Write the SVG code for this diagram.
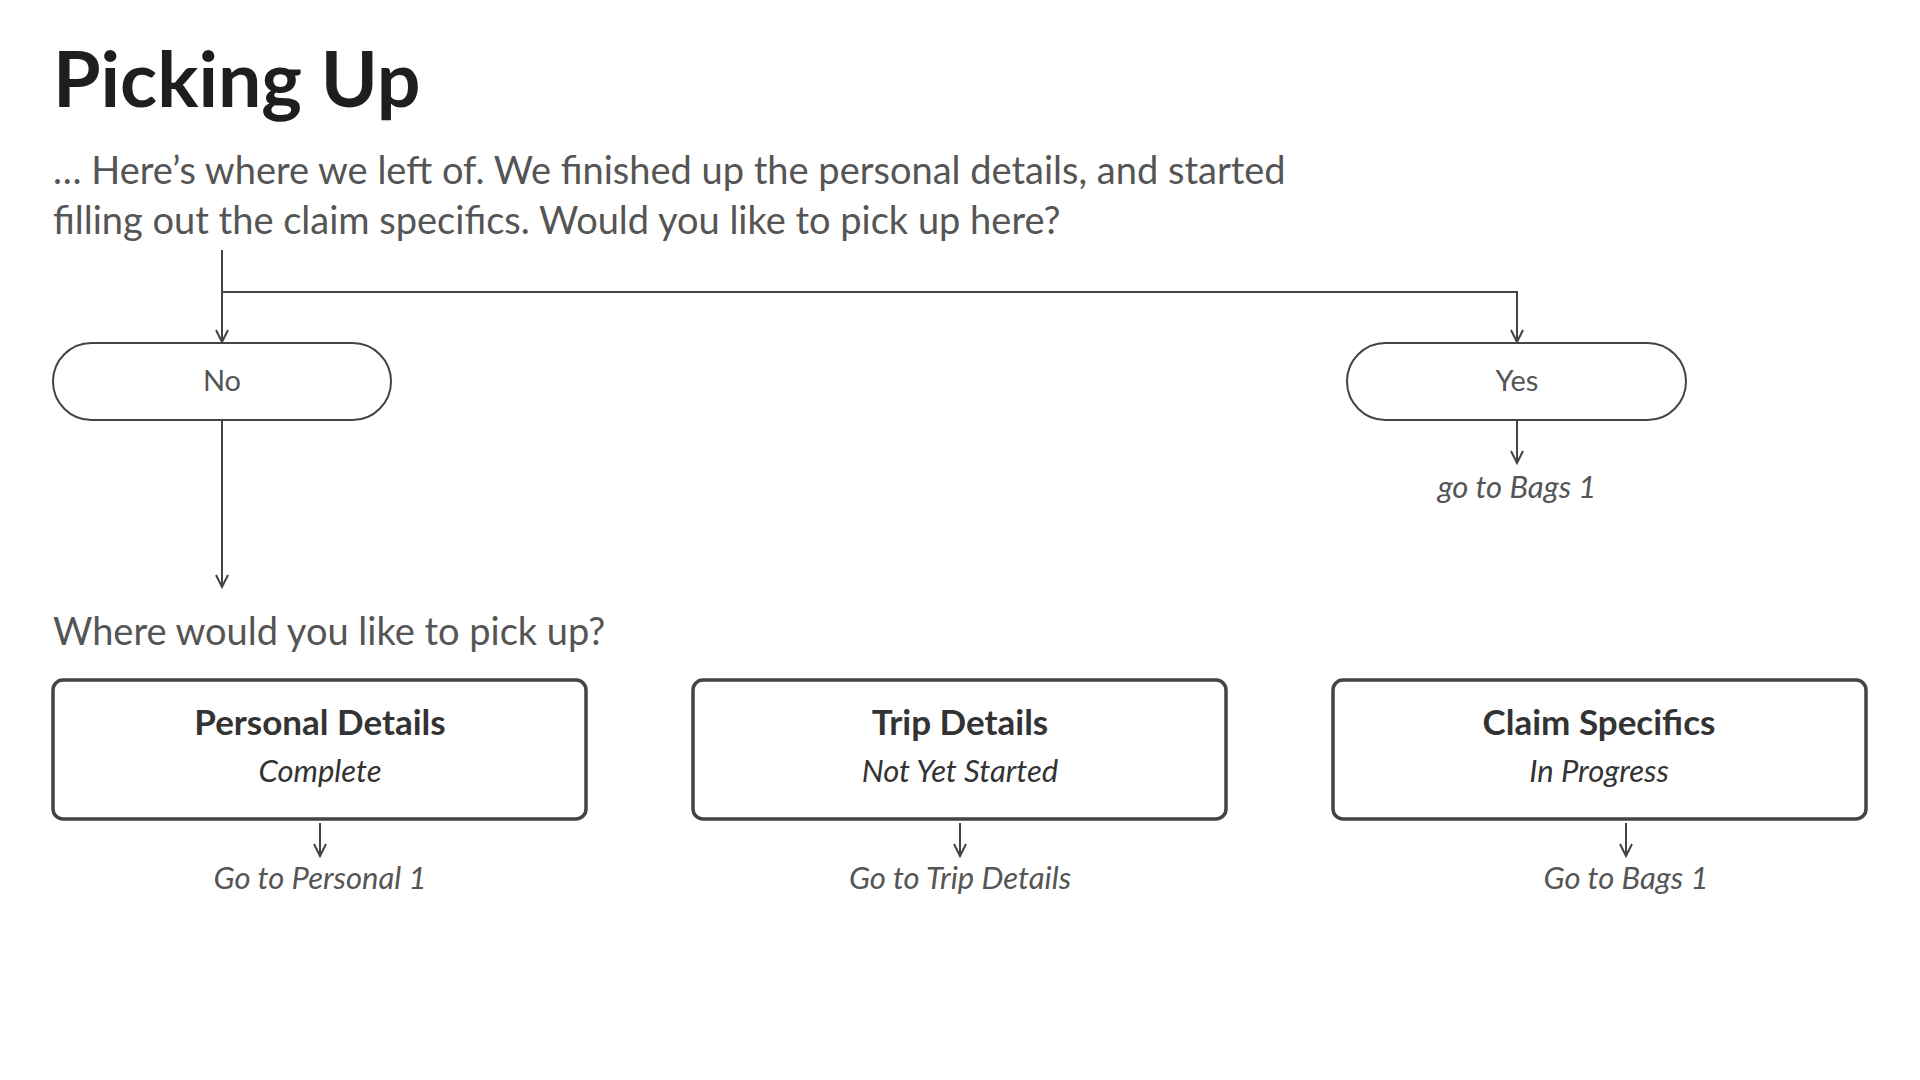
<svg xmlns="http://www.w3.org/2000/svg" width="1920" height="1080" viewBox="0 0 1920 1080">
  <style>
    .title { font-family: Lato, "Open Sans", sans-serif; font-weight: 700; font-size: 77px; fill: #1e1e1e; }
    .lead { font-family: Lato, "Open Sans", sans-serif; font-size: 38px; fill: #555555; }
    .pill { fill: #ffffff; stroke: #444444; stroke-width: 2; }
    .pilltext { font-family: Lato, "Open Sans", sans-serif; font-size: 29px; fill: #555555; text-anchor: middle; }
    .box { fill: #ffffff; stroke: #444444; stroke-width: 3.5; }
    .boxtitle { font-family: Lato, "Open Sans", sans-serif; font-weight: 700; font-size: 35px; fill: #333333; text-anchor: middle; }
    .boxsub { font-family: Lato, "Open Sans", sans-serif; font-style: italic; font-size: 31px; fill: #333333; text-anchor: middle; }
    .goto { font-family: Lato, "Open Sans", sans-serif; font-style: italic; font-size: 31px; fill: #555555; text-anchor: middle; }
    .conn { fill: none; stroke: #444444; stroke-width: 2; }
  </style>
  <defs>
    <marker id="arrow" markerUnits="userSpaceOnUse" markerWidth="30" markerHeight="30" viewBox="-15 -15 30 30" refX="0" refY="0" orient="auto-start-reverse">
      <path d="M-12,-6 L0,0 L-12,6" fill="none" stroke="#444444" stroke-width="2"/>
    </marker>
  </defs>
  <rect width="1920" height="1080" fill="#ffffff"/>

  <g id="header">
    <text class="title" x="53" y="107">Picking Up</text>
    <text class="lead" x="53" y="184">… Here’s where we left of. We finished up the personal details, and started</text>
    <text class="lead" x="53" y="234">filling out the claim specifics. Would you like to pick up here?</text>
  </g>

  <g id="connectors">
    <path class="conn" d="M222,250 V342" marker-end="url(#arrow)"/>
    <path class="conn" d="M222,292 H1517 V342" marker-end="url(#arrow)"/>
    <path class="conn" d="M222,420 V587" marker-end="url(#arrow)"/>
    <path class="conn" d="M1517,420 V463" marker-end="url(#arrow)"/>
    <path class="conn" d="M320,823 V856" marker-end="url(#arrow)"/>
    <path class="conn" d="M960,823 V856" marker-end="url(#arrow)"/>
    <path class="conn" d="M1626,823 V856" marker-end="url(#arrow)"/>
  </g>

  <g id="node-no">
    <rect class="pill" x="53" y="343" width="338" height="77" rx="38.5"/>
    <text class="pilltext" x="222" y="391">No</text>
  </g>

  <g id="node-yes">
    <rect class="pill" x="1347" y="343" width="339" height="77" rx="38.5"/>
    <text class="pilltext" x="1517" y="391">Yes</text>
  </g>

  <g id="label-yes-goto">
    <text class="goto" x="1517" y="498">go to Bags 1</text>
  </g>

  <g id="question">
    <text class="lead" x="53" y="645">Where would you like to pick up?</text>
  </g>

  <g id="node-personal">
    <rect class="box" x="53" y="680" width="533" height="139" rx="10"/>
    <text class="boxtitle" x="320" y="735">Personal Details</text>
    <text class="boxsub" x="320" y="782">Complete</text>
  </g>

  <g id="node-trip">
    <rect class="box" x="693" y="680" width="533" height="139" rx="10"/>
    <text class="boxtitle" x="960" y="735">Trip Details</text>
    <text class="boxsub" x="960" y="782">Not Yet Started</text>
  </g>

  <g id="node-claim">
    <rect class="box" x="1333" y="680" width="533" height="139" rx="10"/>
    <text class="boxtitle" x="1599" y="735">Claim Specifics</text>
    <text class="boxsub" x="1599" y="782">In Progress</text>
  </g>

  <g id="labels-goto">
    <text class="goto" x="320" y="889">Go to Personal 1</text>
    <text class="goto" x="960" y="889">Go to Trip Details</text>
    <text class="goto" x="1626" y="889">Go to Bags 1</text>
  </g>
</svg>
